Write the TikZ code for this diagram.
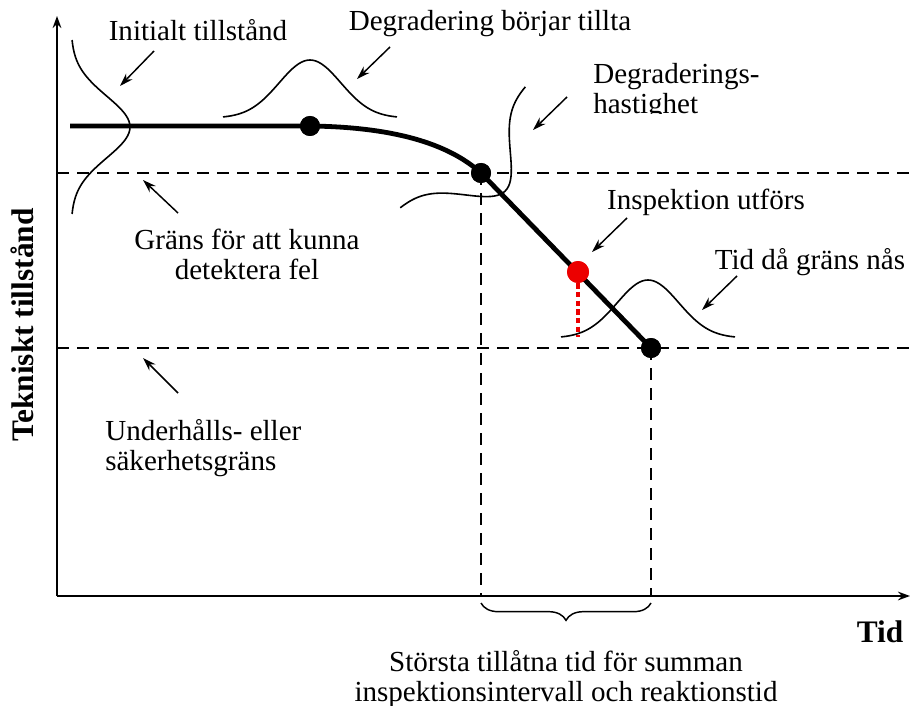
\documentclass[tikz,border=0pt]{standalone}
\usepackage{fontspec}
\setmainfont{Liberation Serif}
\usepackage{tikz}
\usetikzlibrary{arrows.meta, positioning, decorations.pathreplacing}
\definecolor{inspred}{RGB}{236,0,0}

\tikzset{
  lbl/.style={font=\fontsize{21.8}{22.5}\selectfont, inner sep=0pt, align=center},
  axlbl/.style={font=\fontsize{23.5}{26}\selectfont\bfseries, inner sep=0pt},
  pointer/.style={-{Stealth[length=10pt, width=6.5pt]}, line width=1.1pt},
  axisline/.style={-{Stealth[length=9pt, width=6.5pt]}, line width=1.6pt},
  limit/.style={dash pattern=on 9pt off 6pt, line width=1.1pt},
  bell/.style={line width=1.2pt},
  statedot/.style={circle, fill=black, inner sep=0pt, minimum size=15pt},
}

\begin{document}
\begin{tikzpicture}[x=0.75pt, y=-0.75pt]
  \useasboundingbox (0,0) rectangle (910,706);

  % axes
  \coordinate (origin) at (57,596);
  \coordinate (ytop) at (57,16);
  \coordinate (xend) at (910,596);
  \draw[axisline] (origin) -- (ytop);
  \draw[axisline] (origin) -- (xend);
  \node[axlbl, rotate=90] (ylabel) at (22,325) {Tekniskt tillstånd};
  \node[axlbl] (xlabel) at (880,632) {Tid};

  % condition curve
  \coordinate (start) at (70,126);
  \node[statedot] (d1) at (310,126) {};
  \node[statedot] (d2) at (481,173) {};
  \node[statedot] (d3) at (651,348) {};
  \node[circle, fill=inspred, inner sep=0pt, minimum size=16.5pt] (insp) at (578,272) {};
  \coordinate (inspfoot) at (578,337);

  % limits
  \draw[limit] (origin |- d2) -- (xend |- d2);
  \draw[limit] (origin |- d3) -- (xend |- d3);
  \draw[limit] (d2.center) -- (d2 |- origin);
  \draw[limit] (d3.center) -- (d3 |- origin);

  \draw[line width=3.6pt] (start) -- (d1.center)
    .. controls (392,127) and (448,143) .. (d2.center) -- (d3.center);
  \draw[inspred, line width=3.2pt, dash pattern=on 4pt off 2.5pt] (insp.south) -- (inspfoot);
  \node[statedot] at (d1) {};
  \node[statedot] at (d2) {};
  \node[statedot] at (d3) {};
  \node[circle, fill=inspred, inner sep=0pt, minimum size=16.5pt] at (insp) {};

  % distributions
  \draw[bell] plot[domain=-87:87, samples=61, smooth]
    ({71+59*exp(-(\x*\x)/1900)}, {127+\x});
  \draw[bell] plot[domain=-87:87, samples=61, smooth]
    ({310+\x}, {118-58*exp(-(\x*\x)/1900)});
  \draw[bell] plot[domain=-87:87, samples=61, smooth]
    ({462+0.719*\x+43.1*exp(-(\x*\x)/1900)}, {146.5-0.695*\x+44.6*exp(-(\x*\x)/1900)});
  \draw[bell] plot[domain=-87:87, samples=61, smooth]
    ({648+\x}, {338-58*exp(-(\x*\x)/1900)});

  % labels
  \node[lbl] (initTxt) at (198,30) {Initialt tillstånd};
  \node[lbl] (startTxt) at (490,24) {Degradering börjar tillta};
  \begin{scope}
    \clip (585,50) rectangle (780,114);
    \node[lbl, align=left, anchor=west] (rateTxt) at (593,92) {Degraderings-\\hastighet};
  \end{scope}
  \node[lbl] (detectTxt) at (247,254) {Gräns för att kunna\\detektera fel};
  \node[lbl] (inspTxt) at (706,202) {Inspektion utförs};
  \node[lbl] (reachTxt) at (810,262) {Tid då gräns nås};
  \node[lbl, align=left, anchor=west] (safetyTxt) at (105,448) {Underhålls- eller\\säkerhetsgräns};
  \node[lbl] (sumTxt) at (566,679) {Största tillåtna tid för summan\\inspektionsintervall och reaktionstid};

  % brace
  \draw[decorate, decoration={brace, mirror, amplitude=13pt}, line width=1.1pt]
    (d2 |- 0,603) -- (d3 |- 0,603);

  % pointers
  \coordinate (init-from) at (154,51);   \coordinate (init-to) at (120,86);
  \coordinate (start-from) at (390,47);  \coordinate (start-to) at (357,79);
  \coordinate (rate-from) at (567,97);   \coordinate (rate-to) at (533,130);
  \coordinate (insp-from) at (627,218);  \coordinate (insp-to) at (592,252);
  \coordinate (reach-from) at (737,276); \coordinate (reach-to) at (702,310);
  \coordinate (detect-from) at (178,213); \coordinate (detect-to) at (143,180);
  \coordinate (safety-from) at (178,393); \coordinate (safety-to) at (143,358);
  \foreach \n in {init, start, rate, insp, reach, detect, safety}
    \draw[pointer] (\n-from) -- (\n-to);
\end{tikzpicture}
\end{document}
